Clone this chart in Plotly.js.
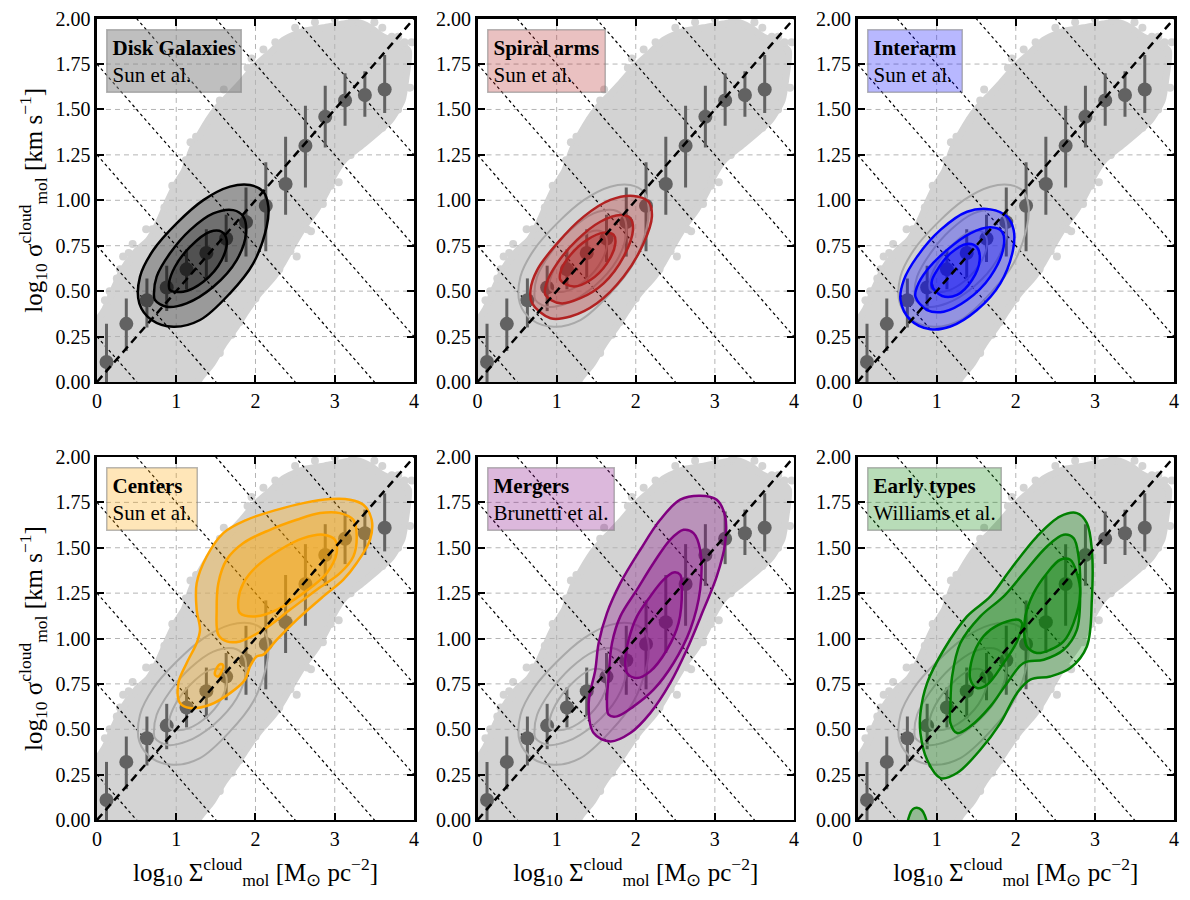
<!DOCTYPE html>
<html>
<head>
<meta charset="utf-8">
<script src="https://cdn.plot.ly/plotly-3.0.1.min.js"></script>
<style>
  body { margin: 0; background: #fff; }
  #chart { width: 1190px; height: 900px; }
</style>
</head>
<body>
<div id="chart"></div>
<script>
// axis ticks and reference lines
const xTicks = [0, 1, 2, 3, 4];
const yTicks = [0, 0.25, 0.5, 0.75, 1, 1.25, 1.5, 1.75, 2];
const dottedLevels = [0.25, 0.75, 1.25, 1.75, 2.25, 2.75, 3.25];

// binned medians of the full cloud sample
const binX = [0.12, 0.37, 0.63, 0.88, 1.13, 1.38, 1.63, 1.88, 2.13, 2.38, 2.63, 2.88, 3.13, 3.38, 3.63];
const binY = [0.11, 0.32, 0.45, 0.52, 0.62, 0.71, 0.79, 0.88, 0.97, 1.09, 1.30, 1.46, 1.55, 1.58, 1.61];
const binErrUp = [0.21, 0.14, 0.12, 0.12, 0.11, 0.13, 0.13, 0.19, 0.24, 0.26, 0.22, 0.17, 0.15, 0.13, 0.19];
const binErrDown = [0.21, 0.15, 0.15, 0.13, 0.11, 0.15, 0.13, 0.19, 0.25, 0.17, 0.23, 0.17, 0.14, 0.12, 0.13];

// outline of the grey point cloud (all clouds)
const cloudX = [-0.05, -0.05, 0.1, 0.2, 0.33, 0.5, 0.65, 0.78, 0.9, 1.0, 1.1, 1.2, 1.32, 1.5, 1.65, 1.8, 2.0, 2.18,
  2.35, 2.6, 2.86, 3.1, 3.28, 3.45, 3.61, 3.83, 3.93, 3.9, 3.85, 3.7, 3.55, 3.36, 3.11, 2.98, 2.9, 2.77, 2.62,
  2.48, 2.35, 2.23, 2.05, 1.9, 1.75, 1.6, 1.45, 1.3, 1.22];
const cloudY = [-0.05, 0.29, 0.40, 0.5, 0.62, 0.72, 0.78, 0.88, 1.0, 1.09, 1.16, 1.28, 1.38, 1.5, 1.57, 1.64, 1.74, 1.81,
  1.88, 1.93, 1.95, 1.97, 1.98, 1.95, 1.9, 1.86, 1.82, 1.68, 1.55, 1.44, 1.38, 1.31, 1.22, 1.13, 1.05, 0.95, 0.86,
  0.76, 0.66, 0.58, 0.49, 0.40, 0.30, 0.21, 0.10, 0.02, -0.05];
// scattered clouds along the edges of the distribution
const strayX = [0.02, 0.16, 0.29, 0.33, 0.45, 0.62, 0.95, 1.12, 1.18, 1.42, 1.6, 1.95, 2.25, 2.44, 2.52, 2.7, 2.85,
  3.05, 3.22, 3.5, 3.72, 3.88, 3.97, 3.95, 1.35, 1.7, 0.1, 0.25, 0.4, 0.7, 0.85, 1.25, 1.55, 1.9, 2.1, 2.5, 2.75,
  3.0, 3.6, 3.8, 3.8, 3.6, 3.2, 2.95, 2.65, 2.3, 2.0, 1.8, 1.55];
const strayY = [0.33, 0.5, 0.62, 0.69, 0.76, 0.84, 1.08, 1.22, 1.32, 1.44, 1.61, 1.78, 1.87, 0.72, 0.69, 0.83, 0.98,
  1.1, 1.99, 1.98, 1.9, 1.87, 1.87, 1.62, 0.06, 0.26, 0.45, 0.57, 0.71, 0.84, 0.96, 1.35, 1.55, 1.73, 1.83, 1.95, 1.98,
  2.0, 1.95, 1.9, 1.5, 1.4, 1.25, 1.08, 0.84, 0.62, 0.46, 0.33, 0.16];

// panel labels
const panelNames = ["Disk Galaxies", "Spiral arms", "Interarm", "Centers", "Mergers", "Early types"];
const panelRefs = ["Sun et al.", "Sun et al.", "Sun et al.", "Sun et al.", "Brunetti et al.", "Williams et al."];

// density contours (outer, middle, inner, ...)
const diskX = [
  [0.534, 0.690, 0.963, 1.300, 1.678, 1.972, 2.141, 2.162, 2.099, 1.931, 1.678, 1.342, 1.005, 0.711, 0.543],
  [0.732, 0.879, 1.131, 1.468, 1.763, 1.880, 1.846, 1.720, 1.468, 1.174, 0.921, 0.753, 0.719],
  [0.921, 1.089, 1.342, 1.573, 1.636, 1.573, 1.426, 1.174, 0.984, 0.909]];
const diskY = [
  [0.433, 0.341, 0.304, 0.341, 0.488, 0.653, 0.855, 0.965, 1.047, 1.084, 1.075, 1.001, 0.873, 0.726, 0.580],
  [0.451, 0.414, 0.433, 0.524, 0.671, 0.818, 0.910, 0.946, 0.928, 0.836, 0.708, 0.580, 0.488],
  [0.506, 0.497, 0.552, 0.671, 0.781, 0.827, 0.827, 0.744, 0.634, 0.543]];

const spiralX = [
  [0.690, 0.921, 1.174, 1.510, 1.847, 2.099, 2.204, 2.162, 1.973, 1.679, 1.342, 1.006, 0.753, 0.669],
  [0.858, 1.048, 1.300, 1.594, 1.847, 1.965, 1.931, 1.805, 1.552, 1.258, 1.006, 0.871],
  [1.048, 1.216, 1.426, 1.636, 1.742, 1.721, 1.594, 1.384, 1.174, 1.056]];
const spiralY = [
  [0.433, 0.351, 0.360, 0.433, 0.580, 0.763, 0.910, 0.992, 1.024, 1.002, 0.910, 0.763, 0.616, 0.506],
  [0.479, 0.433, 0.461, 0.543, 0.690, 0.837, 0.901, 0.919, 0.882, 0.782, 0.653, 0.543],
  [0.561, 0.525, 0.561, 0.653, 0.763, 0.809, 0.822, 0.782, 0.699, 0.616]];

const interarmX = [
  [0.543, 0.669, 0.921, 1.174, 1.510, 1.805, 1.965, 1.973, 1.889, 1.679, 1.384, 1.048, 0.753, 0.585],
  [0.732, 0.879, 1.090, 1.384, 1.679, 1.847, 1.826, 1.679, 1.426, 1.132, 0.879, 0.753],
  [0.942, 1.069, 1.258, 1.447, 1.544, 1.510, 1.384, 1.174, 1.006, 0.942]];
const interarmY = [
  [0.451, 0.341, 0.290, 0.305, 0.396, 0.543, 0.727, 0.837, 0.910, 0.950, 0.937, 0.837, 0.690, 0.561],
  [0.470, 0.396, 0.387, 0.451, 0.580, 0.745, 0.827, 0.851, 0.818, 0.727, 0.616, 0.525],
  [0.525, 0.473, 0.479, 0.561, 0.671, 0.741, 0.760, 0.708, 0.616, 0.561]];

const centersX = [
  [1.048, 1.174, 1.426, 1.679, 1.868, 1.931, 2.015, 2.099, 2.267, 2.520, 2.856, 3.109, 3.277, 3.445, 3.466, 3.361,
   3.193, 2.940, 2.604, 2.267, 1.889, 1.594, 1.384, 1.258, 1.258, 1.300, 1.258, 1.132, 1.027],
  [1.531, 1.636, 1.805, 2.099, 2.435, 2.772, 3.066, 3.235, 3.277, 3.235, 3.066, 2.814, 2.520, 2.183, 1.847, 1.636,
   1.531, 1.510],
  [1.805, 2.015, 2.267, 2.604, 2.898, 3.024, 3.003, 2.856, 2.604, 2.309, 2.015, 1.847, 1.784],
  [1.489, 1.531, 1.573, 1.594, 1.561, 1.510]];
const centersY = [
  [0.644, 0.617, 0.635, 0.699, 0.773, 0.846, 0.901, 0.911, 0.993, 1.103, 1.232, 1.324, 1.416, 1.544, 1.654, 1.737,
   1.765, 1.768, 1.746, 1.709, 1.654, 1.581, 1.452, 1.305, 1.158, 1.048, 0.975, 0.865, 0.754],
  [1.021, 0.984, 0.984, 1.048, 1.158, 1.269, 1.360, 1.452, 1.562, 1.654, 1.691, 1.691, 1.654, 1.599, 1.526, 1.434,
   1.305, 1.158],
  [1.140, 1.122, 1.158, 1.250, 1.360, 1.471, 1.544, 1.572, 1.553, 1.489, 1.397, 1.305, 1.214],
  [0.800, 0.791, 0.819, 0.850, 0.859, 0.837]];

const mergersX = [
  [1.468, 1.679, 1.931, 2.183, 2.435, 2.645, 2.856, 3.024, 3.130, 3.130, 3.024, 2.814, 2.562, 2.309, 2.057, 1.805,
   1.636, 1.531, 1.489, 1.405],
  [1.657, 1.763, 1.973, 2.225, 2.478, 2.688, 2.814, 2.814, 2.730, 2.604, 2.435, 2.225, 2.015, 1.805, 1.700, 1.657, 1.636],
  [1.889, 2.015, 2.183, 2.394, 2.541, 2.583, 2.562, 2.478, 2.352, 2.183, 2.015, 1.910, 1.868]];
const mergersY = [
  [0.479, 0.433, 0.479, 0.589, 0.754, 0.938, 1.158, 1.342, 1.526, 1.673, 1.765, 1.787, 1.765, 1.654, 1.489, 1.305,
   1.140, 0.975, 0.828, 0.644],
  [0.580, 0.571, 0.626, 0.718, 0.865, 1.048, 1.269, 1.489, 1.581, 1.599, 1.544, 1.416, 1.269, 1.122, 0.975, 0.791, 0.644],
  [0.810, 0.782, 0.819, 0.938, 1.085, 1.269, 1.351, 1.364, 1.324, 1.232, 1.122, 0.993, 0.883]];

const earlyX = [
  [0.795, 0.879, 1.048, 1.258, 1.552, 1.805, 2.015, 2.183, 2.435, 2.688, 2.898, 2.961, 2.961, 2.898, 2.772, 2.562,
   2.267, 1.931, 1.679, 1.384, 1.090, 0.879, 0.795],
  [1.174, 1.258, 1.426, 1.679, 1.889, 2.099, 2.352, 2.604, 2.772, 2.814, 2.793, 2.730, 2.604, 2.394, 2.099, 1.847,
   1.552, 1.300, 1.195, 1.174],
  [1.426, 1.510, 1.636, 1.847, 2.015, 2.078, 2.036, 1.889, 1.679, 1.531, 1.435],
  [2.141, 2.267, 2.435, 2.604, 2.730, 2.814, 2.772, 2.688, 2.562, 2.394, 2.225, 2.120, 2.108],
  [0.64, 0.66, 0.70, 0.75, 0.81, 0.85, 0.87]];
const earlyY = [
  [0.479, 0.332, 0.231, 0.259, 0.387, 0.534, 0.699, 0.773, 0.791, 0.837, 0.956, 1.214, 1.489, 1.636, 1.691, 1.673,
   1.562, 1.379, 1.232, 1.122, 0.938, 0.754, 0.589],
  [0.534, 0.479, 0.516, 0.626, 0.754, 0.865, 0.883, 0.938, 1.048, 1.269, 1.452, 1.553, 1.572, 1.507, 1.360, 1.232,
   1.122, 0.975, 0.791, 0.626],
  [0.773, 0.727, 0.745, 0.865, 0.984, 1.085, 1.103, 1.094, 1.048, 0.975, 0.865],
  [0.956, 0.920, 0.938, 0.984, 1.085, 1.250, 1.360, 1.434, 1.434, 1.360, 1.250, 1.122, 1.012],
  [-0.03, 0.03, 0.06, 0.067, 0.055, 0.025, -0.03]];

const panelContX = [diskX, spiralX, interarmX, centersX, mergersX, earlyX];
const panelContY = [diskY, spiralY, interarmY, centersY, mergersY, earlyY];
const panelRgb = ["0,0,0", "178,34,34", "0,0,255", "255,165,0", "128,0,128", "0,128,0"];

const serif = "'Liberation Serif', 'Times New Roman', serif";
const xDomains = [[0.0815, 0.3479], [0.4013, 0.6672], [0.7206, 0.9866]];
const yDomains = [[0.5756, 0.9793], [0.0889, 0.4922]];

let traces = [];
let layout = {
  width: 1190, height: 900,
  margin: {l: 0, r: 0, t: 0, b: 0},
  paper_bgcolor: "white", plot_bgcolor: "white",
  showlegend: false,
  font: {family: serif, color: "black"},
  annotations: []
};

function closeLoop(a) { return a.concat([a[0]]); }

for (let i = 0; i < 6; i++) {
  let xa = i === 0 ? "x" : "x" + (i + 1);
  let ya = i === 0 ? "y" : "y" + (i + 1);
  let col = i % 3, row = Math.floor(i / 3);

  // grey cloud of all measurements
  traces.push({x: cloudX, y: cloudY, xaxis: xa, yaxis: ya, mode: "lines", fill: "toself",
    fillcolor: "#d3d3d3", line: {color: "#d3d3d3", width: 7, shape: "spline", smoothing: 0.6}, hoverinfo: "skip"});
  traces.push({x: strayX, y: strayY, xaxis: xa, yaxis: ya, mode: "markers",
    marker: {color: "#d3d3d3", size: 8}, hoverinfo: "skip"});

  // dashed grid on top of the cloud
  let gx = [], gy = [];
  xTicks.slice(1, -1).forEach(t => { gx.push(t, t, null); gy.push(0, 2, null); });
  yTicks.slice(1, -1).forEach(t => { gx.push(0, 4, null); gy.push(t, t, null); });
  traces.push({x: gx, y: gy, xaxis: xa, yaxis: ya, mode: "lines",
    line: {color: "#b4b4b4", width: 1, dash: "5px,4px"}, hoverinfo: "skip"});

  // dotted reference lines
  let dx = [], dy = [];
  dottedLevels.forEach(c => { dx.push(0, 4, null); dy.push(c, c - 2, null); });
  traces.push({x: dx, y: dy, xaxis: xa, yaxis: ya, mode: "lines",
    line: {color: "black", width: 1.2, dash: "dot"}, hoverinfo: "skip"});

  // binned points
  traces.push({x: binX, y: binY, xaxis: xa, yaxis: ya, mode: "markers",
    marker: {color: "#626262", size: 14},
    error_y: {type: "data", array: binErrUp, arrayminus: binErrDown, color: "#626262", thickness: 3, width: 0}});

  // disk reference contours in the other panels
  if (i > 0) {
    diskX.forEach((cx, k) => {
      traces.push({x: closeLoop(cx), y: closeLoop(diskY[k]), xaxis: xa, yaxis: ya, mode: "lines",
        line: {color: "#a9a9a9", width: 2, shape: "spline", smoothing: 1}, hoverinfo: "skip"});
    });
  }

  // sample contours
  let rgb = panelRgb[i];
  let alpha = i === 0 ? 0.27 : 0.3;
  panelContX[i].forEach((cx, k) => {
    traces.push({x: closeLoop(cx), y: closeLoop(panelContY[i][k]), xaxis: xa, yaxis: ya, mode: "lines",
      fill: "toself", fillcolor: "rgba(" + rgb + "," + alpha + ")",
      line: {color: "rgb(" + rgb + ")", width: 2.5, shape: "spline", smoothing: 1}, hoverinfo: "skip"});
  });

  // one-to-one dashed line
  traces.push({x: [0, 4], y: [0, 2], xaxis: xa, yaxis: ya, mode: "lines",
    line: {color: "black", width: 2.5, dash: "8px,5px"}, hoverinfo: "skip"});

  let axBase = {
    showline: true, linecolor: "black", linewidth: 2.5, mirror: "allticks",
    ticks: "inside", ticklen: 7, tickwidth: 2, tickcolor: "black",
    showgrid: false, zeroline: false, layer: "above traces",
    tickfont: {family: serif, size: 20, color: "black"}
  };
  layout["xaxis" + (i === 0 ? "" : i + 1)] = Object.assign({}, axBase, {
    domain: xDomains[col], anchor: ya, range: [0, 4], tickvals: xTicks,
    title: row === 1 ? {text: "log<sub>10</sub> Σ<sup>cloud</sup><sub>mol</sub> [M<sub>⊙</sub> pc<sup>−2</sup>]",
      font: {family: serif, size: 25}, standoff: 14} : undefined
  });
  layout["yaxis" + (i === 0 ? "" : i + 1)] = Object.assign({}, axBase, {
    domain: yDomains[row], anchor: xa, range: [0, 2], tickvals: yTicks, tickformat: ".2f",
    title: col === 0 ? {text: "log<sub>10</sub> σ<sup>cloud</sup><sub>mol</sub> [km s<sup>−1</sup>]",
      font: {family: serif, size: 25}, standoff: 6} : undefined
  });

  // label box
  layout.annotations.push({
    xref: xa + " domain", yref: ya + " domain", x: 0.03, y: 0.972, xanchor: "left", yanchor: "top",
    align: "left", showarrow: false,
    text: "<b>" + panelNames[i] + "</b><br>" + panelRefs[i],
    font: {family: serif, size: 21, color: "black"},
    bgcolor: i === 0 ? "rgba(128,128,128,0.5)" : "rgba(" + rgb + ",0.28)",
    bordercolor: "rgba(128,128,128,0.55)", borderwidth: 1.5, borderpad: 5
  });
}

Plotly.newPlot("chart", traces, layout, {staticPlot: true});
</script>
</body>
</html>
